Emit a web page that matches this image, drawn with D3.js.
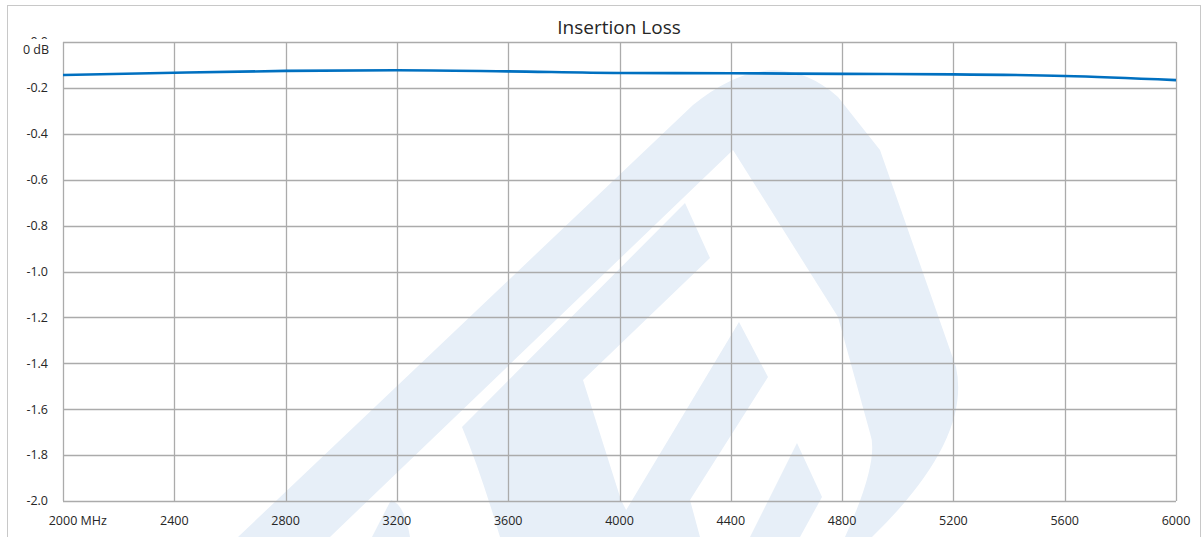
<!DOCTYPE html>
<html>
<head>
<meta charset="utf-8">
<script src="https://cdn.jsdelivr.net/npm/d3@7"></script>
<style>
  body { margin:0; background:#fff; }
  svg { display:block; font-family:"Open Sans","Liberation Sans",sans-serif; }
</style>
</head>
<body>
<svg width="1202" height="537"></svg>
<script>
// frequency points (MHz) and insertion loss (dB)
var freqs = [2000, 2400, 2800, 3200, 3600, 4000, 4400, 4800, 5200, 5600, 6000];
var loss  = [-0.144, -0.134, -0.126, -0.123, -0.128, -0.135, -0.136, -0.139, -0.141, -0.148, -0.166];
var xTicks = [2000, 2400, 2800, 3200, 3600, 4000, 4400, 4800, 5200, 5600, 6000];
var yTicks = [0, -0.2, -0.4, -0.6, -0.8, -1.0, -1.2, -1.4, -1.6, -1.8, -2.0];
var title = "Insertion Loss";

var svg = d3.select("svg");
var pLeft = 63, pRight = 1176, pTop = 42, pBottom = 501;

var x = d3.scaleLinear().domain([2000, 6000]).range([pLeft, pRight]);
var y = d3.scaleLinear().domain([-2, 0]).range([pBottom, pTop]);

// faint logo watermark behind everything
var wm = svg.append("g").attr("fill", "#e7eff8");
wm.append("path")
  .attr("d", "M238,537 L693,105 Q773,40 838,97 L880,150 L956,367 Q972,440 872,537 L845,537 Q880,460 870,433 L838,317 L733,150 L330,537 Z");
wm.append("path")
  .attr("d", "M685,203 L710,258 L583,380 L621,500 L640,537 L500,537 Q480,470 462,427 Z");
wm.append("path")
  .attr("d", "M739,322 L768,377 L690,500 L700,537 L610,537 Z");
wm.append("path")
  .attr("d", "M797,443 L822,497 L800,537 L750,537 Z");
wm.append("path")
  .attr("d", "M391,500 Q405,505 410,537 L372,537 Z");

// outer frame
svg.append("rect")
  .attr("x", 7.5).attr("y", 5.5)
  .attr("width", 1193).attr("height", 540)
  .attr("fill", "none").attr("stroke", "#c8c8c8");

// title
svg.append("text")
  .attr("x", 619).attr("y", 34)
  .attr("text-anchor", "middle")
  .attr("font-size", 19)
  .attr("fill", "#262626")
  .text(title);

// grid
var grid = svg.append("g").attr("stroke", "#ababab").attr("stroke-width", 1.3);
grid.selectAll("line.h").data(yTicks).enter().append("line")
  .attr("x1", pLeft).attr("x2", pRight)
  .attr("y1", d => Math.round(y(d)) + 0.5).attr("y2", d => Math.round(y(d)) + 0.5);
grid.selectAll("line.v").data(xTicks).enter().append("line")
  .attr("y1", pTop).attr("y2", pBottom)
  .attr("x1", d => Math.round(x(d)) + 0.5).attr("x2", d => Math.round(x(d)) + 0.5);

// y labels (top one is a "0.0" mostly hidden behind "0 dB")
var ylab = svg.append("g").attr("font-size", 12.5).attr("fill", "#262626").attr("text-anchor", "end");
ylab.selectAll("text").data(yTicks).enter().append("text")
  .attr("x", 48)
  .attr("y", d => y(d))
  .attr("dy", "0.35em")
  .text(d => d.toFixed(1));
svg.append("rect").attr("x", 18).attr("y", 39).attr("width", 36).attr("height", 18).attr("fill", "#fff");
svg.append("text")
  .attr("x", 49).attr("y", y(0) + 8).attr("dy", "0.35em")
  .attr("text-anchor", "end").attr("font-size", 12.5).attr("fill", "#262626")
  .text("0 dB");

// x labels
var xlab = svg.append("g").attr("font-size", 12.5).attr("fill", "#262626");
xlab.selectAll("text").data(xTicks).enter().append("text")
  .attr("x", d => x(d))
  .attr("y", 525)
  .attr("text-anchor", "middle")
  .text(d => d);
// first tick label carries the unit
xlab.selectAll("text").filter(d => d == 2000)
  .attr("text-anchor", "start")
  .attr("x", function(d) { return x(d) - this.getComputedTextLength() / 2; })
  .text("2000 MHz");

// curve
var line = d3.line()
  .x((d, i) => x(freqs[i]))
  .y(d => y(d))
  .curve(d3.curveMonotoneX);
svg.append("path")
  .datum(loss)
  .attr("d", line)
  .attr("fill", "none")
  .attr("stroke", "#0070c0")
  .attr("stroke-width", 2.6);
</script>
</body>
</html>
